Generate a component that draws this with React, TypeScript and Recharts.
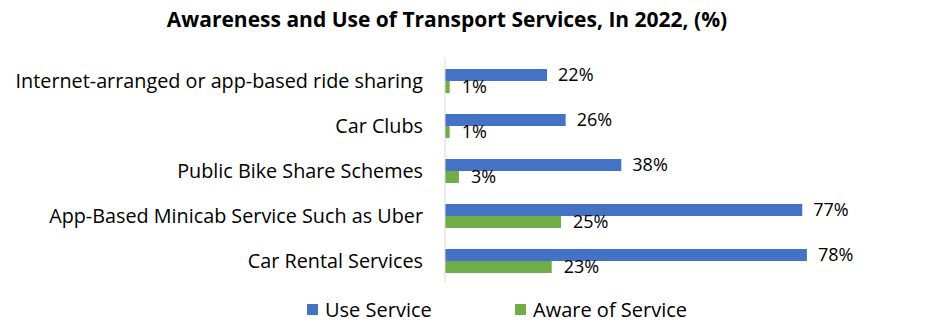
import { BarChart, Bar, XAxis, YAxis, LabelList } from "recharts"

const categories = [
  "Internet-arranged or app-based ride sharing",
  "Car Clubs",
  "Public Bike Share Schemes",
  "App-Based Minicab Service Such as Uber",
  "Car Rental Services",
]
const useService = [22, 26, 38, 77, 78]
const awareOfService = [1, 1, 3, 25, 23]
const seriesNames = ["Use Service", "Aware of Service"]
const seriesColors = ["#4472C4", "#70AD47"]

const data = categories.map((name, i) => ({
  name,
  use: useService[i],
  aware: awareOfService[i],
}))

const FONT = "'Open Sans', sans-serif"
const legendLeft = [307, 515]

export default function App() {
  return (
    <div style={{ position: "absolute", left: 0, top: 0, width: 934, height: 333, background: "#fff" }}>
      <div
        style={{
          position: "absolute",
          top: 5,
          left: 0,
          width: 894,
          textAlign: "center",
          fontFamily: FONT,
          fontWeight: 700,
          fontSize: 21,
          color: "#000",
        }}
      >
        Awareness and Use of Transport Services, In 2022, (%)
      </div>
      <BarChart
        width={934}
        height={333}
        data={data}
        layout="vertical"
        margin={{ top: 58, right: 25, bottom: 50, left: 0 }}
        barSize={12}
        barGap={0}
      >
        <XAxis type="number" domain={[0, 100]} hide />
        <YAxis
          type="category"
          dataKey="name"
          width={445}
          tickLine={false}
          tickSize={0}
          tickMargin={22}
          axisLine={{ stroke: "#d9d9d9" }}
          tick={{ fontFamily: FONT, fontSize: 19.8, fill: "#000" }}
          interval={0}
        />
        <Bar dataKey="use" name={seriesNames[0]} fill={seriesColors[0]} isAnimationActive={false}>
          <LabelList dataKey="use" position="right" offset={11} formatter={(v: number) => `${v}%`} style={{ fontFamily: FONT, fontSize: 18, fill: "#000" }} />
        </Bar>
        <Bar dataKey="aware" name={seriesNames[1]} fill={seriesColors[1]} isAnimationActive={false}>
          <LabelList dataKey="aware" position="right" offset={12} formatter={(v: number) => `${v}%`} style={{ fontFamily: FONT, fontSize: 18, fill: "#000" }} />
        </Bar>
      </BarChart>
      {seriesNames.map((n, i) => (
        <div
          key={n}
          style={{
            position: "absolute",
            left: legendLeft[i],
            top: 296,
            height: 26,
            display: "flex",
            alignItems: "center",
            fontFamily: FONT,
            fontSize: 20,
            color: "#000",
          }}
        >
          <span style={{ width: 11, height: 11, background: seriesColors[i], display: "inline-block", marginRight: 7 }} />
          <span>{n}</span>
        </div>
      ))}
    </div>
  )
}
